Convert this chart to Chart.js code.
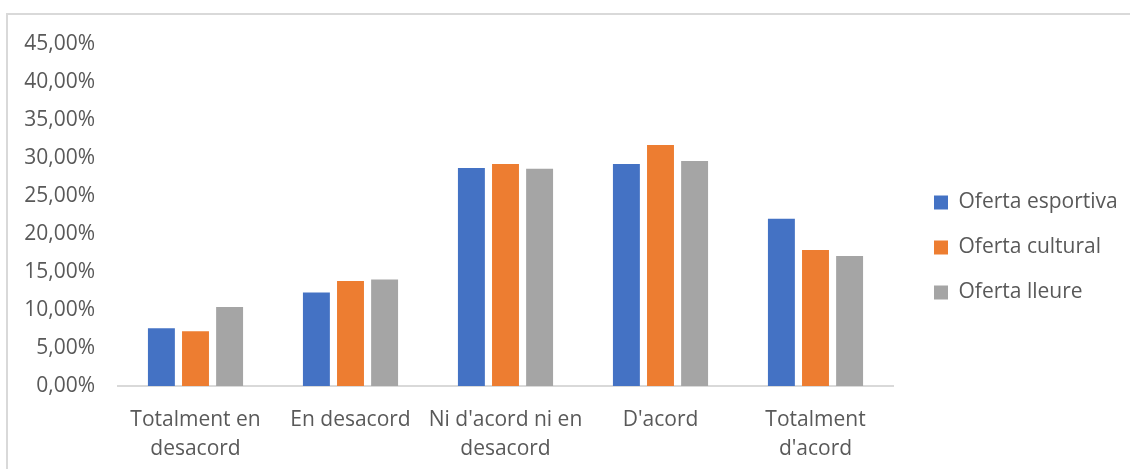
<!DOCTYPE html>
<html lang="ca">
<head>
  <meta charset="UTF-8">
  <title>Oferta esportiva, cultural i de lleure</title>
  <script src="https://cdn.jsdelivr.net/npm/chart.js"></script>
  <style>
    html, body { margin: 0; padding: 0; background: #fff; overflow: hidden; }
    .marc {
      position: absolute;
      left: 6px;
      top: 13px;
      width: 1124px;
      height: 456px;
      border-left: 2px solid #d9d9d9;
      border-top: 2px solid #d9d9d9;
    }
  </style>
</head>
<body>
  <div class="marc">
    <canvas id="grafic" width="1122" height="454"></canvas>
  </div>

  <script>
    // dades llegides del gràfic (en %)
    const categories = [
      ['Totalment en', 'desacord'],
      'En desacord',
      ["Ni d'acord ni en", 'desacord'],
      "D'acord",
      ['Totalment', "d'acord"]
    ];
    const esportiva = [7.6, 12.3, 28.7, 29.2, 22.0];
    const cultural = [7.2, 13.8, 29.2, 31.7, 17.9];
    const lleure = [10.4, 14.0, 28.6, 29.6, 17.1];
    const yTicks = [0, 5, 10, 15, 20, 25, 30, 35, 40, 45];

    const textColor = '#595959';
    const fontFamily = '"Open Sans", sans-serif';

    // amplada fixa de la llegenda i posició com a l'original
    const legendPlace = {
      id: 'legendPlace',
      beforeInit(chart) {
        const lg = chart.legend;
        const fit = lg.fit;
        lg.fit = function () {
          fit.call(this);
          this.width = 237;
        };
      },
      afterLayout(chart) {
        const lg = chart.legend;
        const dx = 902 - lg.left;
        lg.left += dx;
        lg.right += dx;
        lg.top -= 9;
        lg.bottom -= 9;
      }
    };

    const ctx = document.getElementById('grafic').getContext('2d');
    new Chart(ctx, {
      type: 'bar',
      data: {
        labels: categories,
        datasets: [
          { label: 'Oferta esportiva', data: esportiva, backgroundColor: '#4472C4' },
          { label: 'Oferta cultural', data: cultural, backgroundColor: '#ED7D31' },
          { label: 'Oferta lleure', data: lleure, backgroundColor: '#A5A5A5' }
        ]
      },
      options: {
        responsive: false,
        animation: false,
        categoryPercentage: 0.66,
        barPercentage: 0.79,
        layout: { padding: { top: 29, left: 0, right: 0, bottom: 0 } },
        scales: {
          x: {
            grid: { display: false, drawTicks: false },
            border: { display: true, color: '#d9d9d9', width: 2 },
            ticks: {
              color: textColor,
              padding: 20,
              maxRotation: 0,
              autoSkip: false,
              font: { family: fontFamily, size: 21, lineHeight: 1.38 }
            },
            afterFit(scale) { scale.height = 83; }
          },
          y: {
            min: 0,
            max: 45,
            grid: { display: false, drawTicks: false },
            border: { display: false },
            afterBuildTicks(scale) {
              scale.ticks = yTicks.map(v => ({ value: v }));
            },
            ticks: {
              color: textColor,
              padding: 23,
              font: { family: fontFamily, size: 21 },
              callback: function (value) {
                return value.toFixed(2).replace('.', ',') + '%';
              }
            },
            afterFit(scale) {
              scale.width = 110;
              scale.paddingTop = 10;
              scale.paddingBottom = 10;
            }
          }
        },
        plugins: {
          legend: {
            position: 'right',
            labels: {
              color: textColor,
              boxWidth: 14,
              boxHeight: 14,
              padding: 24,
              font: { family: fontFamily, size: 21 }
            }
          },
          tooltip: { enabled: false }
        }
      },
      plugins: [legendPlace]
    });
  </script>
</body>
</html>
